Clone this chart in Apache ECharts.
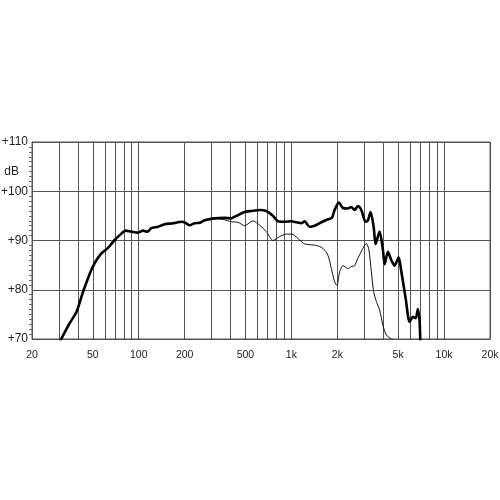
<!DOCTYPE html>
<html>
<head>
<meta charset="utf-8">
<script src="https://cdn.jsdelivr.net/npm/echarts@6/dist/echarts.min.js"></script>
<style>html,body{margin:0;padding:0;background:#fff;}#c{width:500px;height:500px;}</style>
</head>
<body>
<div id="c"></div>
<script>
var freqThick = [30.5, 35.3, 39.1, 43.2, 46.5, 49.4, 52.8, 57.0, 62.9, 69.6, 77.0, 81.8, 89.5, 98.9, 106.7, 113.9, 121, 133.7, 147.9, 167.7, 190.3, 202, 215.6, 232.6, 250.8, 270.4, 314.4, 365.6, 404.4, 436.2, 494.4, 547, 619.6, 685.6, 757.4, 816.6, 903.4, 999.4, 1078, 1162, 1221, 1317, 1420, 1572, 1736, 1843, 1920, 2049, 2176, 2346, 2470, 2596, 2728, 2872, 3064, 3172, 3304, 3458, 3564, 3784, 3978, 4082, 4290, 4516, 4746, 5040, 5250, 5602, 5952, 6254, 6514, 6744, 6918, 6990];
var dbThick = [69.5, 73.2, 75.5, 79.6, 82.3, 84.3, 86.0, 87.4, 88.5, 90.1, 91.4, 92.0, 91.8, 91.6, 92.0, 91.8, 92.5, 92.8, 93.3, 93.5, 93.8, 93.6, 93.1, 93.5, 93.6, 94.1, 94.5, 94.6, 94.5, 95.0, 95.8, 96.0, 96.2, 96.0, 95.0, 93.9, 93.8, 93.9, 93.7, 93.5, 93.9, 92.8, 93.0, 93.7, 94.3, 94.6, 96.2, 97.7, 96.6, 96.5, 96.8, 96.2, 97.0, 96.2, 93.8, 94.1, 95.8, 92.8, 89.3, 91.8, 88.1, 85.2, 87.7, 86.0, 84.9, 86.6, 83.7, 78.3, 73.5, 74.5, 74.2, 76.1, 73.5, 69.5];
var freqThin = [314.4, 356.3, 404.4, 446.8, 494.4, 560.2, 619.6, 685.6, 757.4, 837.8, 927, 1024, 1133, 1221, 1457, 1610, 1736, 1827, 1920, 1988, 2070, 2176, 2346, 2470, 2596, 2728, 2942, 3097, 3221, 3340, 3458, 3602, 3784, 3978, 4188, 4516, 4630];
var dbThin = [94.5, 94.3, 93.8, 93.7, 93.0, 94.0, 93.1, 91.8, 90.0, 90.8, 91.3, 91.2, 90.1, 89.3, 89.0, 88.4, 87.0, 84.3, 81.6, 80.9, 83.6, 84.9, 84.3, 84.7, 84.9, 86.4, 88.4, 89.4, 88.1, 83.7, 79.6, 77.6, 75.9, 72.8, 70.8, 70.0, 69.9];
var gridFreqs = [20, 30, 40, 50, 60, 70, 80, 90, 100, 200, 300, 400, 500, 600, 700, 800, 900, 1000, 2000, 3000, 4000, 5000, 6000, 7000, 8000, 9000, 10000, 20000];
var labelFreqs = [20, 50, 100, 200, 500, 1000, 2000, 5000, 10000, 20000];
var yTicks = [70, 80, 90, 100, 110];

function zip(a, b) { return a.map(function (v, i) { return [v, b[i]]; }); }

var chart = echarts.init(document.getElementById('c'), null, {renderer: 'canvas'});
chart.setOption({
  animation: false,
  backgroundColor: '#ffffff',
  title: {
    text: 'dB', right: 476, top: 161,
    textStyle: {fontFamily: 'Liberation Sans, Arial, sans-serif', fontSize: 12, fontWeight: 'normal', color: '#222'}
  },
  grid: {left: 32, right: 10, top: 142, bottom: 161, show: true, borderColor: '#555', borderWidth: 1, containLabel: false, outerBoundsMode: 'none'},
  xAxis: {
    type: 'log', logBase: 10, min: 20, max: 20000,
    axisLine: {show: true, lineStyle: {color: '#555', width: 1}},
    axisTick: {show: false, customValues: gridFreqs},
    splitLine: {show: true, lineStyle: {color: '#555', width: 1}},
    minorSplitLine: {show: false},
    axisLabel: {
      customValues: labelFreqs, margin: 11, color: '#222', fontSize: 10.5,
      fontFamily: 'Liberation Sans, Arial, sans-serif',
      formatter: function (v) { return v >= 1000 ? (Math.round(v / 100) / 10) + 'k' : String(Math.round(v)); }
    }
  },
  yAxis: {
    type: 'value', min: yTicks[0], max: yTicks[yTicks.length - 1], interval: 10,
    axisLine: {show: true, lineStyle: {color: '#555', width: 1}},
    axisTick: {show: false},
    minorTick: {show: true, splitNumber: 10, length: 3, lineStyle: {color: '#666', width: 1}},
    splitLine: {show: true, lineStyle: {color: '#555', width: 1}},
    axisLabel: {
      margin: 4, color: '#222', fontSize: 12,
      fontFamily: 'Liberation Sans, Arial, sans-serif',
      formatter: function (v) { return '+' + v; }
    }
  },
  series: [
    {
      type: 'line', data: zip(freqThin, dbThin), showSymbol: false, smooth: 0.25,
      lineStyle: {color: '#111', width: 1}, z: 3
    },
    {
      type: 'line', data: zip(freqThick, dbThick), showSymbol: false, smooth: 0.25,
      lineStyle: {color: '#000', width: 2.6}, z: 4
    }
  ]
});
</script>
</body>
</html>
